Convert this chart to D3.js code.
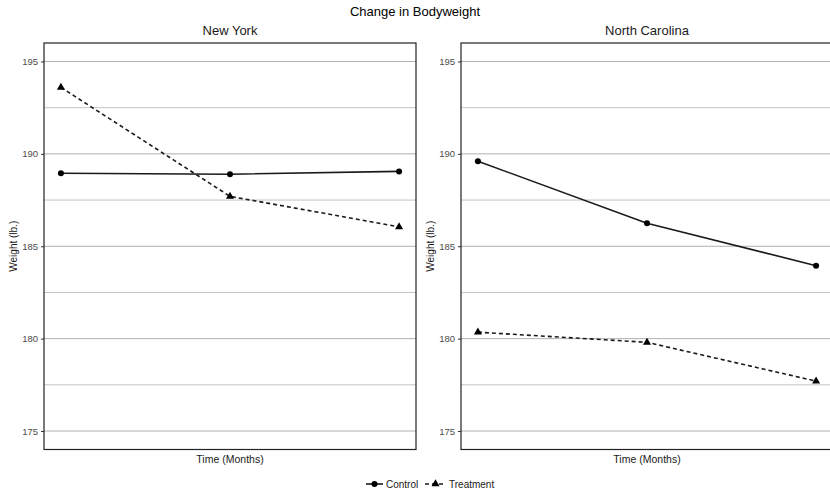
<!DOCTYPE html>
<html>
<head>
<meta charset="utf-8">
<script src="https://cdn.jsdelivr.net/npm/d3@7/dist/d3.min.js"></script>
<style>
  body { margin: 0; background: #fff; }
  svg { display: block; font-family: "Liberation Sans", Arial, sans-serif; }
</style>
</head>
<body>
<svg id="chart" width="830" height="494"></svg>
<script>
// ---- data ----
const months = [1, 2, 3];
const panels = ["New York", "North Carolina"];
const controlNY = [188.95, 188.9, 189.05];
const treatmentNY = [193.6, 187.7, 186.05];
const controlNC = [189.6, 186.25, 183.95];
const treatmentNC = [180.35, 179.8, 177.7];
const yTicks = [175, 180, 185, 190, 195];
const yMinor = [177.5, 182.5, 187.5, 192.5];
const seriesNames = ["Control", "Treatment"];

const panelData = [
  { name: panels[0], control: controlNY, treatment: treatmentNY },
  { name: panels[1], control: controlNC, treatment: treatmentNC }
];

// ---- layout ----
const svg = d3.select("#chart");
const pTop = 43, pBottom = 449.5;
const panelX = [[44, 416], [461, 833]];

svg.append("text").attr("x", 415).attr("y", 16).attr("text-anchor", "middle")
  .attr("font-size", 13).attr("fill", "#000").text("Change in Bodyweight");

const y = d3.scaleLinear().domain([174, 196]).range([pBottom, pTop]);

panelData.forEach((p, i) => {
  const [x0, x1] = panelX[i];
  const x = d3.scaleLinear().domain([0.9, 3.1]).range([x0, x1]);
  const g = svg.append("g");

  // grid
  g.selectAll(".minor").data(yMinor).enter().append("line")
    .attr("x1", x0).attr("x2", x1).attr("y1", d => y(d)).attr("y2", d => y(d))
    .attr("stroke", "#c4c4c4").attr("stroke-width", 1);
  g.selectAll(".major").data(yTicks).enter().append("line")
    .attr("x1", x0).attr("x2", x1).attr("y1", d => y(d)).attr("y2", d => y(d))
    .attr("stroke", "#b0b0b0").attr("stroke-width", 1);

  // y axis
  const ax = g.append("g").attr("transform", `translate(${x0},0)`)
    .call(d3.axisLeft(y).tickValues(yTicks).tickSize(3).tickPadding(3).tickFormat(d3.format("d")));
  ax.select(".domain").remove();
  ax.selectAll(".tick line").attr("stroke", "#333");
  ax.selectAll(".tick text").attr("font-size", 9.5).attr("fill", "#4d4d4d")
    .attr("font-family", "Liberation Sans, Arial, sans-serif");

  // lines
  const line = d3.line().x((d, j) => x(months[j])).y(d => y(d));
  g.append("path").datum(p.control).attr("d", line).attr("fill", "none")
    .attr("stroke", "#1a1a1a").attr("stroke-width", 1.6);
  g.append("path").datum(p.treatment).attr("d", line).attr("fill", "none")
    .attr("stroke", "#1a1a1a").attr("stroke-width", 1.6).attr("stroke-dasharray", "4,3");

  g.selectAll(".pc").data(p.control).enter().append("circle")
    .attr("cx", (d, j) => x(months[j])).attr("cy", d => y(d)).attr("r", 3).attr("fill", "#000");
  const tri = d3.symbol().type(d3.symbolTriangle).size(28);
  g.selectAll(".pt").data(p.treatment).enter().append("path")
    .attr("d", tri).attr("transform", (d, j) => `translate(${x(months[j])},${y(d)})`).attr("fill", "#000");

  // border
  g.append("rect").attr("x", x0).attr("y", pTop).attr("width", x1 - x0).attr("height", pBottom - pTop)
    .attr("fill", "none").attr("stroke", "#222").attr("stroke-width", 1.2);

  // titles
  g.append("text").attr("x", (x0 + x1) / 2).attr("y", 35).attr("text-anchor", "middle")
    .attr("font-size", 13).attr("fill", "#1a1a1a").text(p.name);
  g.append("text").attr("x", (x0 + x1) / 2).attr("y", 462.5).attr("text-anchor", "middle")
    .attr("font-size", 10.5).attr("fill", "#1a1a1a").text("Time (Months)");
  g.append("text").attr("transform", `translate(${x0 - 27},${(pTop + pBottom) / 2}) rotate(-90)`)
    .attr("text-anchor", "middle").attr("font-size", 10).attr("fill", "#1a1a1a").text("Weight (lb.)");
});

// legend
const lg = svg.append("g");
const ly = 484;
const keys = [{ x: 366, dash: null, sym: "circle", tx: 386 }, { x: 425, dash: "4,3", sym: "tri", tx: 449 }];
keys.forEach((k, i) => {
  lg.append("line").attr("x1", k.x).attr("x2", k.x + (i === 0 ? 17 : 21)).attr("y1", ly).attr("y2", ly)
    .attr("stroke", "#1a1a1a").attr("stroke-width", 1.6).attr("stroke-dasharray", k.dash);
  const cx = k.x + (i === 0 ? 8.5 : 10.5);
  if (k.sym === "circle") lg.append("circle").attr("cx", cx).attr("cy", ly).attr("r", 3).attr("fill", "#000");
  else lg.append("path").attr("d", d3.symbol().type(d3.symbolTriangle).size(28)())
    .attr("transform", `translate(${cx},${ly})`).attr("fill", "#000");
  lg.append("text").attr("x", k.tx).attr("y", ly + 3.5).attr("font-size", 10).attr("fill", "#1a1a1a").text(seriesNames[i]);
});
</script>
</body>
</html>
